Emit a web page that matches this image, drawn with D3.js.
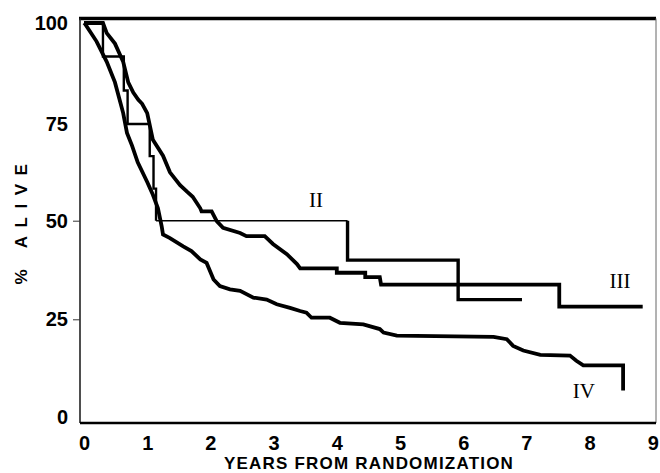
<!DOCTYPE html>
<html>
<head>
<meta charset="utf-8">
<script src="https://cdn.jsdelivr.net/npm/d3@7"></script>
<style>
  body { margin: 0; background: #fff; }
  svg text { font-family: 'Liberation Sans', Arial, sans-serif; }
</style>
</head>
<body>
<svg id="chart" width="660" height="473"></svg>
<script>
// tick labels
const yearTicks = [0, 1, 2, 3, 4, 5, 6, 7, 8, 9]
const aliveTicks = [0, 25, 50, 75, 100]

// [years, % alive]
// stage II has few events, drawn as a step function
const stageII = [
  [0, 100], [0.30, 91.7], [0.63, 83.3], [0.69, 75], [1.04, 66.7], [1.10, 58.3],
  [1.14, 50], [4.17, 40], [5.92, 30], [6.93, 30]
]

// stages III and IV have many small steps, traced as polylines
const stageIII = [
  [0, 100], [0.30, 100], [0.36, 97.5], [0.49, 94.9], [0.62, 90.4], [0.70, 85.3],
  [0.78, 82.8], [0.86, 81], [0.92, 80], [1.00, 77.7], [1.09, 70.9], [1.25, 66.8],
  [1.36, 62.5], [1.52, 59.2], [1.63, 57.5], [1.72, 56.2], [1.84, 53.2], [1.86, 52.4],
  [2.02, 52.4], [2.10, 49.9], [2.20, 48.2], [2.47, 46.9], [2.57, 46.1], [2.86, 46.1],
  [2.99, 44.1], [3.21, 41.5], [3.37, 39.0], [3.42, 37.9], [4.00, 37.9], [4.00, 36.8],
  [4.45, 36.8], [4.45, 35.7], [4.68, 35.7], [4.70, 33.8], [7.52, 33.8], [7.52, 28.2],
  [8.84, 28.2]
]

const stageIV = [
  [0, 100], [0.02, 99.7], [0.20, 95.4], [0.36, 90.4], [0.49, 85.3], [0.62, 77.7],
  [0.68, 72.7], [0.76, 69.4], [0.85, 65.1], [1.00, 60], [1.09, 56.7], [1.17, 53.2],
  [1.23, 48.5], [1.25, 46.5], [1.36, 45.6], [1.57, 43.5], [1.70, 42.3], [1.84, 40.2],
  [1.94, 39.3], [2.05, 35.1], [2.15, 33.4], [2.31, 32.6], [2.47, 32.2], [2.68, 30.5],
  [2.89, 30.0], [3.05, 28.8], [3.26, 27.9], [3.42, 27.1], [3.52, 26.7], [3.60, 25.4],
  [3.89, 25.4], [4.05, 24.1], [4.42, 23.7], [4.68, 22.5], [4.74, 21.6], [4.95, 20.8],
  [6.48, 20.5], [6.69, 19.9], [6.79, 18.2], [6.95, 17.0], [7.22, 15.9], [7.69, 15.7],
  [7.79, 14.4], [7.90, 13.2], [8.53, 13.2], [8.53, 6.8]
]

const stageLabels = ['II', 'III', 'IV']

const svg = d3.select('#chart')

// the scan is slightly stretched at the top, so the y scale is piecewise
const x = d3.scaleLinear().domain([0, 9]).range([84, 652.8])
const y = d3.scaleLinear().domain([0, 25, 50, 75, 100]).range([417, 319.3, 220.7, 124, 23])

const frameLeft = 80, frameRight = 656, frameTop = 18.5, frameBottom = 423

// frame
svg.append('line').attr('x1', frameLeft - 1).attr('x2', frameRight).attr('y1', frameTop).attr('y2', frameTop)
  .attr('stroke', '#000').attr('stroke-width', 3.5)
svg.append('line').attr('x1', frameLeft).attr('x2', frameLeft).attr('y1', frameTop).attr('y2', frameBottom)
  .attr('stroke', '#222').attr('stroke-width', 1.6)
svg.append('line').attr('x1', frameRight).attr('x2', frameRight).attr('y1', frameTop).attr('y2', frameBottom)
  .attr('stroke', '#666').attr('stroke-width', 1)
svg.append('line').attr('x1', frameLeft).attr('x2', frameRight).attr('y1', frameBottom).attr('y2', frameBottom)
  .attr('stroke', '#000').attr('stroke-width', 2.5)

// axes
const xAxis = svg.append('g')
  .attr('transform', `translate(0, ${frameBottom})`)
  .call(d3.axisBottom(x).tickValues(yearTicks).tickSize(0).tickPadding(13).tickFormat(d3.format('d')))
xAxis.select('.domain').remove()
xAxis.selectAll('text')
  .attr('font-family', 'Liberation Sans, Arial, sans-serif')
  .attr('font-size', 20).attr('font-weight', 'bold').attr('fill', '#000')

const yAxis = svg.append('g')
  .attr('transform', `translate(${frameLeft}, 0)`)
  .call(d3.axisLeft(y).tickValues(aliveTicks).tickSize(7).tickPadding(5))
yAxis.select('.domain').remove()
yAxis.selectAll('.tick line')
  .attr('stroke', '#333')
  .attr('opacity', d => (d === 25 || d === 50) ? 1 : 0)
yAxis.selectAll('text')
  .attr('font-family', 'Liberation Sans, Arial, sans-serif')
  .attr('font-size', 20).attr('font-weight', 'bold').attr('fill', '#000')

svg.append('text')
  .attr('x', (frameLeft + frameRight) / 2 + 1)
  .attr('y', 469)
  .attr('text-anchor', 'middle')
  .attr('font-size', 17).attr('font-weight', 'bold')
  .attr('letter-spacing', 1.2)
  .text('YEARS FROM RANDOMIZATION')

svg.append('text')
  .attr('transform', 'translate(27, 220) rotate(-90)')
  .attr('text-anchor', 'middle')
  .attr('font-size', 17).attr('font-weight', 'bold')
  .attr('letter-spacing', 8.5)
  .text('% ALIVE')

// curves
const step = d3.line()
  .x(d => x(d[0]))
  .y(d => y(d[1]))
  .curve(d3.curveStepAfter)

const trace = d3.line()
  .x(d => x(d[0]))
  .y(d => y(d[1]))

const drawPath = (gen, pts, width) => svg.append('path')
  .attr('d', gen(pts))
  .attr('fill', 'none')
  .attr('stroke', '#000')
  .attr('stroke-width', width)
  .attr('stroke-linejoin', 'miter')

drawPath(trace, stageIV, 3.8)
drawPath(trace, stageIII, 3.8)

// stage II: thin in the middle plateau, heavier elsewhere
const plateau = stageII.findIndex(d => d[1] === 50)
drawPath(step, stageII.slice(0, plateau + 1), 2.4)
drawPath(step, [stageII[plateau], [stageII[plateau + 1][0], stageII[plateau][1]]], 1.6)
drawPath(step, [[stageII[plateau + 1][0], stageII[plateau][1]], ...stageII.slice(plateau + 1)], 3.4)

// stage labels
const labelPos = [[3.67, 207], [8.48, 288], [7.91, 398]]
svg.selectAll('.stage')
  .data(stageLabels)
  .join('text')
  .attr('class', 'stage')
  .attr('x', (d, i) => x(labelPos[i][0]))
  .attr('y', (d, i) => labelPos[i][1])
  .attr('text-anchor', 'middle')
  .style('font-family', 'Liberation Serif, serif')
  .attr('font-size', 21)
  .text(d => d)
</script>
</body>
</html>
